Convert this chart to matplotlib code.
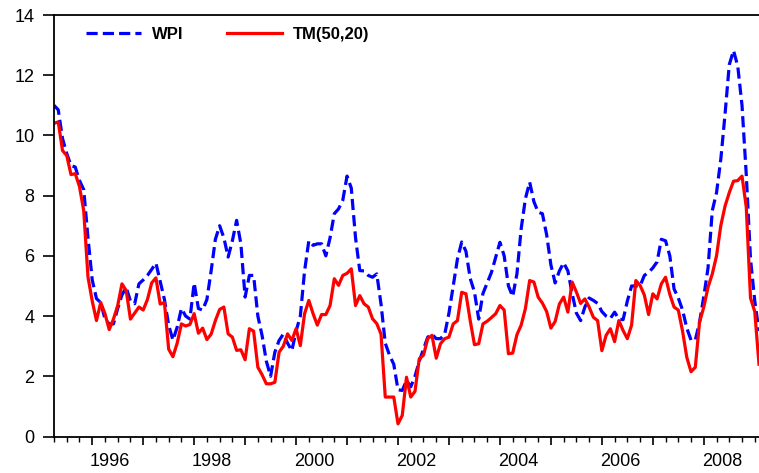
import numpy as np
import matplotlib
matplotlib.use("Agg")
import matplotlib.pyplot as plt
import matplotlib.transforms as mtransforms

plt.rcParams['font.family'] = ['Liberation Sans', 'DejaVu Sans']

# monthly series, first observation 1995M4
start_year = 1995.25

wpi = [11.0, 10.85, 9.9, 9.4, 9.0, 8.95, 8.5, 8.2, 6.6, 5.2,
       4.58, 4.45, 3.9, 3.74, 3.74, 4.25, 4.7, 4.95, 4.5, 4.41,
       5.07, 5.2, 5.35, 5.55, 5.76, 5.15, 4.55, 3.7, 3.2, 3.63,
       4.25, 4.0, 3.9, 5.1, 4.25, 4.2, 4.55, 5.5, 6.55, 7.0,
       6.6, 5.96, 6.5, 7.18, 6.4, 4.63, 5.35, 5.35, 4.0, 3.35,
       2.5, 2.0, 2.8, 3.19, 3.4, 3.1, 2.85, 3.5, 4.0, 5.5,
       6.5, 6.35, 6.4, 6.4, 6.0, 6.6, 7.4, 7.56, 7.85, 8.65,
       8.25, 6.6, 5.51, 5.5, 5.35, 5.29, 5.4, 4.4, 3.1, 2.7,
       2.4, 1.55, 1.53, 1.86, 1.65, 2.0, 2.5, 2.9, 3.3, 3.4,
       3.25, 3.25, 3.4, 4.1, 5.0, 5.9, 6.46, 6.15, 5.25, 4.8,
       3.9, 4.75, 5.1, 5.45, 5.95, 6.45, 6.0, 5.0, 4.65, 5.4,
       6.9, 7.9, 8.45, 7.8, 7.45, 7.4, 6.7, 5.7, 5.1, 5.5,
       5.77, 5.5, 4.75, 4.1, 3.85, 4.3, 4.6, 4.52, 4.42, 4.15,
       4.0, 3.92, 4.13, 3.9, 3.88, 4.5, 5.0, 5.0, 5.0, 5.35,
       5.45, 5.6, 5.8, 6.55, 6.5, 6.0, 4.9, 4.6, 4.2, 3.6,
       3.2, 3.2, 3.8, 4.65, 5.6, 7.5, 8.1, 9.2, 10.7, 12.35,
       12.82, 12.3, 11.0, 8.7, 5.9, 4.5, 3.5]

tm = [10.4, 10.45, 9.5, 9.33, 8.7, 8.73, 8.3, 7.5, 5.3, 4.5,
      3.85, 4.45, 4.08, 3.55, 3.9, 4.35, 5.07, 4.85, 3.9, 4.1,
      4.3, 4.2, 4.55, 5.1, 5.27, 4.4, 4.45, 2.9, 2.65, 3.1,
      3.74, 3.67, 3.72, 4.08, 3.43, 3.6, 3.22, 3.4, 3.85, 4.22,
      4.3, 3.41, 3.3, 2.86, 2.88, 2.55, 3.58, 3.5, 2.3, 2.05,
      1.75, 1.75, 1.8, 2.8, 3.0, 3.41, 3.19, 3.58, 3.02, 4.08,
      4.52, 4.08, 3.7, 4.05, 4.05, 4.35, 5.24, 5.02, 5.35, 5.42,
      5.57, 4.35, 4.68, 4.41, 4.3, 3.91, 3.75, 3.4, 1.31, 1.31,
      1.31, 0.42, 0.7, 1.97, 1.31, 1.5, 2.58, 2.7, 3.25, 3.36,
      2.6, 3.08, 3.25, 3.3, 3.74, 3.85, 4.79, 4.74, 3.85, 3.05,
      3.08, 3.74, 3.83, 3.95, 4.08, 4.35, 4.2, 2.75, 2.77, 3.38,
      3.7, 4.25, 5.18, 5.13, 4.63, 4.43, 4.15, 3.6, 3.82, 4.4,
      4.63, 4.13, 5.13, 4.8, 4.42, 4.57, 4.3, 3.96, 3.85, 2.85,
      3.36, 3.58, 3.15, 3.85, 3.52, 3.25, 3.7, 5.18, 5.02, 4.7,
      4.05, 4.74, 4.57, 5.07, 5.29, 4.72, 4.3, 4.2, 3.5, 2.63,
      2.15, 2.3, 3.8, 4.3, 4.96, 5.4, 6.0, 7.0, 7.65, 8.1,
      8.48, 8.5, 8.65, 7.62, 4.6, 4.15, 2.4]

year_labels = [1996, 1998, 2000, 2002, 2004, 2006, 2008]

t = start_year + np.arange(len(wpi)) / 12.0

fig = plt.figure(figsize=(7.59, 4.73), dpi=100)
ax = fig.add_axes([54 / 759, 1 - 436.5 / 473, 1 - 54 / 759, (436.5 - 15) / 473])

ax.plot(t, wpi, color='#0000ff', lw=2.3, dashes=(3.5, 1.6), label='WPI')
ax.plot(t, tm, color='#ff0000', lw=2.3, label='TM(50,20)')

ax.set_xlim(t[0], t[-1])
ax.set_ylim(0, 14)
ax.set_yticks(np.arange(0, 15, 2))
ax.tick_params(axis='y', direction='out', length=8, width=1.2, pad=6, labelsize=13)

ax.set_xticks(np.arange(1996, 2009))
ax.set_xticks(np.arange(1995.25, 2009.01, 0.25), minor=True)
ax.set_xticklabels([])
ax.tick_params(axis='x', which='major', direction='out', length=5.5, width=1.2)
ax.tick_params(axis='x', which='minor', direction='out', length=3.6, width=1.0)

trans = mtransforms.blended_transform_factory(ax.transData, ax.transAxes)
for yr in year_labels:
    ax.text(yr + 0.353, -0.06, str(yr), transform=trans, ha='center', va='center',
            fontsize=13)

for s in ['left', 'bottom', 'top']:
    ax.spines[s].set_linewidth(1.3)
ax.spines['right'].set_visible(False)

ax.legend(loc='upper left', bbox_to_anchor=(0.024, 1.008), ncol=2, frameon=False,
          prop={'weight': 'bold', 'size': 12}, handlelength=3.3,
          handletextpad=0.65, columnspacing=2.6)

fig.savefig('out.png', dpi=100)
